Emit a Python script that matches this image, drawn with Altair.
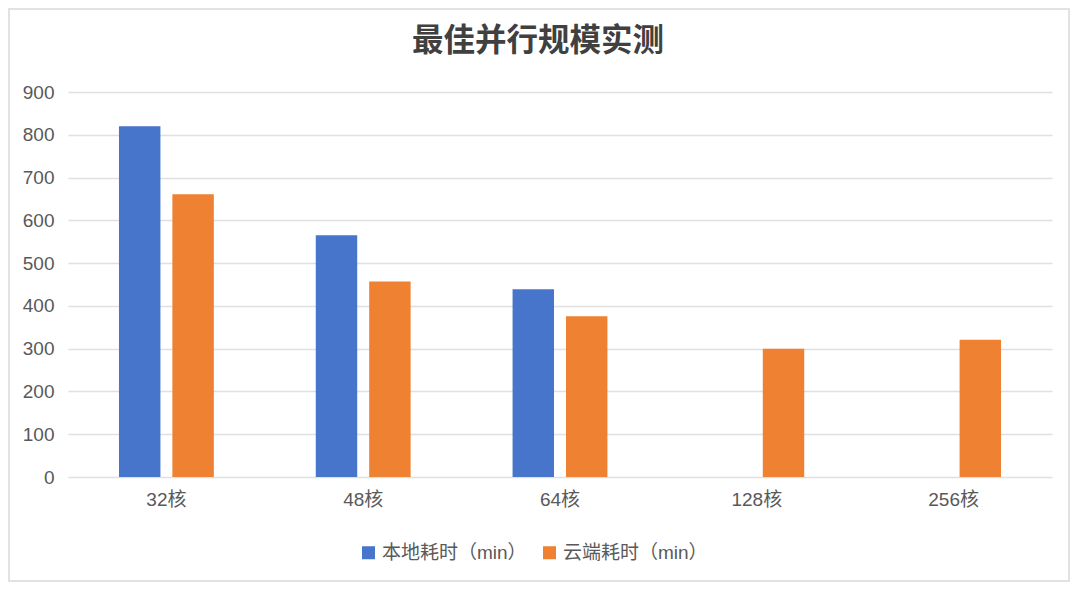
import altair as alt
import pandas as pd

categories = ["32核", "48核", "64核", "128核", "256核"]
local_min = [820, 565, 439, None, None]
cloud_min = [661, 457, 376, 300, 321]
series_names = ["本地耗时（min）", "云端耗时（min）"]
series_colors = ["#4775CC", "#EE8232"]
y_ticks = [0, 100, 200, 300, 400, 500, 600, 700, 800, 900]
title_text = ["最佳并行规模实测"]

rows = []
for c, a, b in zip(categories, local_min, cloud_min):
    if a is not None:
        rows.append({"cat": c, "series": series_names[0], "value": a})
    if b is not None:
        rows.append({"cat": c, "series": series_names[1], "value": b})
df = pd.DataFrame(rows)

W, H = 984, 385
PL, PT, PR, PB = 60, 84, 18, 105
FONT = "Liberation Sans, Noto Sans CJK SC, sans-serif"
LABEL_COLOR = "#595959"
FS = 19

bars = alt.Chart(df).mark_bar().encode(
    x=alt.X(
        "cat:N",
        sort=categories,
        scale=alt.Scale(domain=categories, paddingInner=0.518, paddingOuter=0.259),
        axis=alt.Axis(
            title=None, labelAngle=0, domain=False, ticks=False, grid=False,
            labelPadding=13, labelFontSize=FS, labelColor=LABEL_COLOR, labelFont=FONT,
        ),
    ),
    xOffset=alt.XOffset(
        "series:N",
        sort=series_names,
        scale=alt.Scale(domain=series_names, paddingInner=0.224, paddingOuter=0),
    ),
    y=alt.Y(
        "value:Q",
        scale=alt.Scale(domain=[0, 900], nice=False),
        axis=alt.Axis(
            title=None, values=y_ticks, domain=False, ticks=False,
            gridColor="#e0e0e0", gridWidth=1.5,
            labelPadding=14, labelFontSize=FS, labelColor=LABEL_COLOR, labelFont=FONT,
        ),
    ),
    color=alt.Color(
        "series:N",
        sort=series_names,
        scale=alt.Scale(domain=series_names, range=series_colors),
        legend=alt.Legend(
            title=None, orient="none", legendX=291, legendY=451,
            direction="horizontal", symbolType="square", symbolSize=169,
            symbolStrokeWidth=0, labelFontSize=FS, labelColor=LABEL_COLOR,
            labelFont=FONT, columnPadding=13, labelOffset=4,
        ),
    ),
)

frame = alt.Chart(alt.Data(values=[{"k": 1}])).mark_rect(
    filled=False, stroke="#e2e2e2", strokeWidth=2
).encode(
    x=alt.value(-PL + 1), x2=alt.value(W + PR - 1),
    y=alt.value(-PT + 1), y2=alt.value(H + PB - 1),
)

title = alt.Chart(alt.Data(values=[{"t": t} for t in title_text])).mark_text(
    font="Noto Sans CJK SC", fontSize=31.5, fontWeight="bold", color="#404040",
    align="center", baseline="middle",
).encode(
    text="t:N",
    x=alt.value(W / 2 - 22),
    y=alt.value(-50),
)

chart = alt.layer(frame, bars, title).properties(
    width=W,
    height=H,
    padding={"left": PL, "top": PT, "right": PR, "bottom": PB},
    autosize=alt.AutoSizeParams(type="none"),
    background="white",
).configure_view(strokeWidth=0, stroke="transparent")

chart.save("out.html", embed_options={"renderer": "svg", "actions": False})
